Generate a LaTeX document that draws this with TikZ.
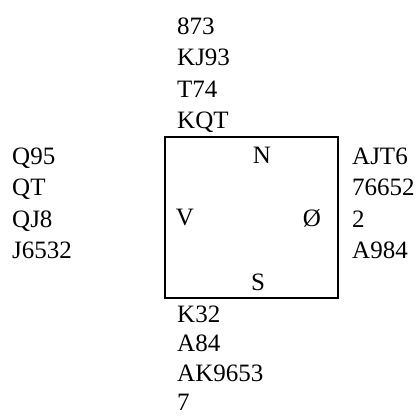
\documentclass[tikz,border=0pt]{standalone}
\usepackage{fontspec}
\setmainfont{Liberation Serif}
\usetikzlibrary{positioning}

\begin{document}
\begin{tikzpicture}[
    x=1pt, y=1pt,
    font=\fontsize{25}{31.5}\selectfont,
    hand/.style={
        anchor=north west,
        align=left,
        inner sep=0pt
    },
    seat/.style={
        inner sep=0pt
    },
    tablebox/.style={
        draw,
        line width=1.8pt,
        minimum width=173pt,
        minimum height=161pt,
        inner sep=0pt
    }
]
    \useasboundingbox (0,0) rectangle (417,-419);
    %% Bordet
    \node[tablebox] (table) at (251.5,-217.5) {};
    %% Plassene
    \node[seat] (north) at (262,-155) {N};
    \node[seat] (south) at (258,-282) {S};
    \node[seat] (west) at (185,-218) {V};
    \node[seat] (east) at (312,-218) {Ø};
    %% Hendene
    \node[hand] (nhand) at (177,-17.5) {873\\KJ93\\T74\\KQT};
    \node[hand] (whand) at (12,-147.5) {Q95\\QT\\QJ8\\J6532};
    \node[hand] (ehand) at (352,-147.5) {AJT6\\76652\\2\\A984};
    \node[hand, font=\fontsize{25}{29.5}\selectfont] (shand) at (177,-305.5) {K32\\A84\\AK9653\\7};
\end{tikzpicture}
\end{document}
